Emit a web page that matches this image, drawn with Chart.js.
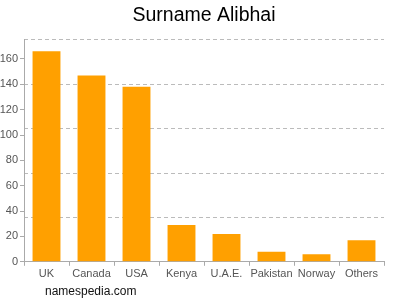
<!DOCTYPE html>
<html>
<head>
<meta charset="utf-8">
<script src="https://cdn.jsdelivr.net/npm/chart.js@4.4.0/dist/chart.umd.min.js"></script>
<style>
  html, body { margin: 0; padding: 0; background: #fff; }
  #wrap { position: relative; width: 400px; height: 300px; }
  #credit { position: absolute; left: 45px; top: 284px; font: 12px "Liberation Sans", Arial, sans-serif; color: #111; }
</style>
</head>
<body>
<div id="wrap">
  <canvas id="chart" width="400" height="300"></canvas>
  <div id="credit">namespedia.com</div>
</div>
<script>
const countries = ['UK', 'Canada', 'USA', 'Kenya', 'U.A.E.', 'Pakistan', 'Norway', 'Others'];
const counts = [166, 147, 138, 29, 22, 8, 6, 17];
const yMax = 175;
const tickStep = 20;
const gridStep = 35;

const ctx = document.getElementById('chart').getContext('2d');

new Chart(ctx, {
    type: 'bar',
    data: {
        labels: countries,
        datasets: [{
            data: counts,
            backgroundColor: '#ffa000',
            borderWidth: 0,
            barPercentage: 0.62,
            categoryPercentage: 1
        }]
    },
    options: {
        responsive: false,
        animation: false,
        layout: { padding: { left: 0, right: 0, top: 0, bottom: 17 } },
        plugins: {
            legend: { display: false },
            tooltip: { enabled: false },
            title: {
                display: true,
                fullSize: false,
                text: 'Surname Alibhai',
                color: '#000',
                font: { family: 'Liberation Sans', size: 19.5, weight: 'normal' },
                padding: { top: 4, bottom: 12.5 }
            }
        },
        scales: {
            x: {
                grid: { drawOnChartArea: false, tickLength: 4, color: '#aaa' },
                border: { color: '#aaa' },
                ticks: { color: '#555', font: { family: 'Liberation Sans', size: 11 }, padding: 2, maxRotation: 0, autoSkip: false }
            },
            y: {
                min: 0,
                max: yMax,
                grid: { drawOnChartArea: false, tickLength: 4, color: '#aaa' },
                border: { color: '#aaa' },
                ticks: {
                    stepSize: tickStep,
                    color: '#555',
                    font: { family: 'Liberation Sans', size: 11 },
                    padding: 2
                },
                afterBuildTicks: axis => {
                    axis.ticks = axis.ticks.filter(t => t.value % tickStep === 0);
                },
                afterFit: axis => { axis.width = 24; }
            },
            yGrid: {
                position: 'right',
                min: 0,
                max: yMax,
                ticks: { display: false, stepSize: gridStep },
                border: { display: false, dash: [4, 3] },
                grid: { color: '#bbb', tickLength: 0, drawTicks: false },
                afterBuildTicks: axis => {
                    axis.ticks = axis.ticks.filter(t => t.value > 0);
                },
                afterFit: axis => { axis.width = 16; }
            }
        }
    }
});
</script>
</body>
</html>
